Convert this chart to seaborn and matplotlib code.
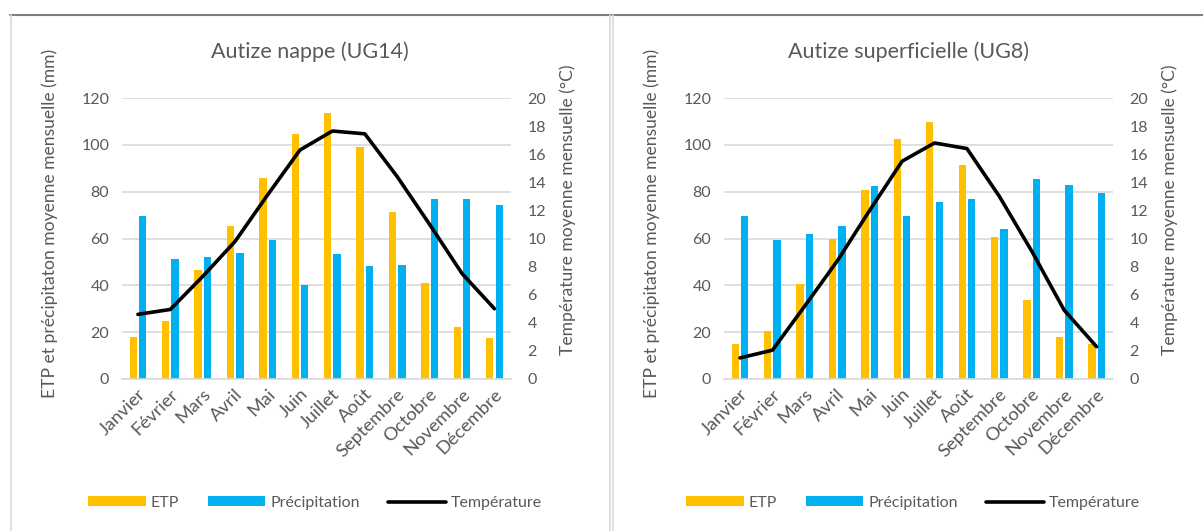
import numpy as np
import pandas as pd
import matplotlib
matplotlib.use("Agg")
import matplotlib.pyplot as plt
import seaborn as sns
from matplotlib.patches import Patch
from matplotlib.lines import Line2D
from matplotlib.transforms import ScaledTranslation

months = ["Janvier", "Février", "Mars", "Avril", "Mai", "Juin", "Juillet",
          "Août", "Septembre", "Octobre", "Novembre", "Décembre"]

# Autize nappe (UG14)
etp_nappe = [18, 24.6, 46.4, 65.3, 85.7, 104.6, 113.6, 99.1, 71.5, 41.2, 22.3, 17.3]
prec_nappe = [69.6, 51.4, 52.1, 53.7, 59.3, 40.2, 53.5, 48.1, 48.6, 76.8, 76.8, 74.3]
temp_nappe = [4.6, 4.95, 7.3, 9.8, 13.1, 16.3, 17.65, 17.45, 14.4, 11.0, 7.5, 5.0]

# Autize superficielle (UG8)
etp_sup = [14.9, 20.6, 40.6, 59.7, 80.9, 102.4, 109.6, 91.6, 60.8, 33.6, 18.0, 14.9]
prec_sup = [69.7, 59.4, 62.1, 65.4, 82.6, 69.6, 75.6, 76.9, 64.1, 85.6, 82.9, 79.3]
temp_sup = [1.5, 2.05, 5.2, 8.4, 12.0, 15.5, 16.8, 16.4, 13.0, 9.1, 4.9, 2.3]

titles = ["Autize nappe (UG14)", "Autize superficielle (UG8)"]
series_names = ["ETP", "Précipitation", "Température"]
ylabel_left = "ETP et précipitaton moyenne mensuelle (mm)"
ylabel_right = "Température moyenne mensuelle (°C)"

YEL = "#FFC000"
BLU = "#00B0F0"
GRID = "#D9D9D9"
TXT = "#595959"

sns.set_theme(style="white")
plt.rcParams['font.family'] = ['Lato', 'DejaVu Sans']

W, H = 1203, 531
fig = plt.figure(figsize=(W / 100, H / 100), dpi=100)


def fx(px):
    return px / W


def fy(py):
    return 1 - py / H


def panel(x0, chart_l, chart_r, title, etp, prec, temp):
    top, bottom = 98.0, 379.0
    ax = fig.add_axes([fx(x0), fy(bottom), 389 / W, (bottom - top) / H])
    df = pd.DataFrame({
        "Mois": months * 2,
        "Valeur": list(etp) + list(prec),
        "Série": [series_names[0]] * 12 + [series_names[1]] * 12,
    })
    sns.barplot(data=df, x="Mois", y="Valeur", hue="Série",
                palette=[YEL, BLU], width=0.58, gap=0.22, saturation=1,
                errorbar=None, linewidth=0, legend=False, ax=ax)
    ax.set_xlim(-0.5, 11.5)
    ax.set_ylim(0, 120)
    ax.set_yticks(range(0, 121, 20))
    ax.set_axisbelow(True)
    ax.yaxis.grid(True, color=GRID, lw=1.2)
    ax.xaxis.grid(False)
    for s in ["top", "left", "right"]:
        ax.spines[s].set_visible(False)
    ax.spines["bottom"].set_color(GRID)
    ax.spines["bottom"].set_linewidth(1.2)
    ax.set_xlabel("")
    ax.set_ylabel("")
    ax.tick_params(axis="y", length=0, pad=9, labelsize=11.5, labelcolor=TXT)
    ax.tick_params(axis="x", length=0, pad=9, labelsize=13.3, labelcolor=TXT)
    offs = ScaledTranslation(5 / 100, 0, fig.dpi_scale_trans)
    for lab in ax.get_xticklabels():
        lab.set_rotation(45)
        lab.set_ha("right")
        lab.set_va("center")
        lab.set_rotation_mode("anchor")
        lab.set_transform(lab.get_transform() + offs)

    ax2 = ax.twinx()
    sns.lineplot(x=np.arange(len(months)), y=temp, color="black", lw=2.6,
                 ax=ax2, legend=False)
    ax2.set_ylim(0, 20)
    ax2.set_yticks(range(0, 21, 2))
    for s in ax2.spines.values():
        s.set_visible(False)
    ax2.set_ylabel("")
    ax2.tick_params(axis="y", length=0, pad=12, labelsize=11.5, labelcolor=TXT)
    ax2.grid(False)

    cx = (chart_l + chart_r) / 2
    fig.text(fx(cx), fy(52), title, ha="center", va="center",
             fontsize=15.5, color=TXT)
    fig.text(fx(x0 - 72), fy(223), ylabel_left, rotation=90, ha="center",
             va="center", fontsize=12.6, color=TXT)
    fig.text(fx(x0 + 389 + 57), fy(210), ylabel_right, rotation=90,
             ha="center", va="center", fontsize=12.6, color=TXT)

    handles = [Patch(facecolor=YEL, edgecolor="none"),
               Patch(facecolor=BLU, edgecolor="none"),
               Line2D([], [], color="black", lw=2.6)]
    fig.legend(handles, series_names, loc="center",
               bbox_to_anchor=(fx(cx + 5), fy(503)), ncol=3, frameon=False,
               fontsize=11.5, labelcolor=TXT, handlelength=3.6,
               handleheight=0.6, handletextpad=0.3, columnspacing=1.8)
    return ax


panel(121.7, 10, 610, titles[0], etp_nappe, prec_nappe, temp_nappe)
panel(723.8, 613, 1203, titles[1], etp_sup, prec_sup, temp_sup)

# chart borders
fig.add_artist(Line2D([fx(10), 1], [fy(15), fy(15)], color="#808080", lw=1.5))
fig.add_artist(Line2D([fx(10.5), fx(10.5)], [fy(15), 0], color=GRID, lw=1.2))
fig.add_artist(Line2D([fx(610), fx(610)], [fy(15), 0], color=GRID, lw=1.2))
fig.add_artist(Line2D([fx(613.3), fx(613.3)], [fy(15), 0], color=GRID, lw=1.2))

fig.savefig("out.png", dpi=100)
